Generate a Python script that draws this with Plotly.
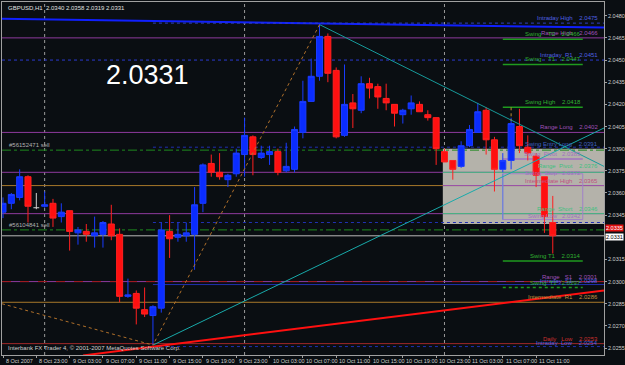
import plotly.graph_objects as go

# ---------------- data ----------------
bar_index = list(range(67))
opens = [2.0347, 2.0353, 2.0357, 2.0371, 2.0350, 2.0351, 2.0353, 2.0344, 2.0348, 2.0333,
         2.0334, 2.0331, 2.0332, 2.0339, 2.0332, 2.0290, 2.0292, 2.0281, 2.0277, 2.0282,
         2.0334, 2.0330, 2.0331, 2.0332, 2.0353, 2.0380, 2.0374, 2.0369, 2.0373, 2.0386,
         2.0398, 2.0384, 2.0386, 2.0388, 2.0375, 2.0376, 2.0401, 2.0422, 2.0439, 2.0466,
         2.0443, 2.0399, 2.0421, 2.0416, 2.0434, 2.0432, 2.0424, 2.0420, 2.0413, 2.0417,
         2.0420, 2.0413, 2.0411, 2.0388, 2.0382, 2.0378, 2.0392, 2.0401, 2.0416, 2.0396,
         2.0376, 2.0382, 2.0405, 2.0391, 2.0385, 2.0371, 2.0340]
highs = [2.0357, 2.0360, 2.0376, 2.0372, 2.0360, 2.0361, 2.0356, 2.0353, 2.0348, 2.0337,
         2.0339, 2.0344, 2.0341, 2.0352, 2.0336, 2.0302, 2.0294, 2.0296, 2.0284, 2.0340,
         2.0345, 2.0340, 2.0340, 2.0364, 2.0380, 2.0386, 2.0387, 2.0373, 2.0390, 2.0411,
         2.0399, 2.0392, 2.0392, 2.0390, 2.0394, 2.0405, 2.0436, 2.0451, 2.0474, 2.0468,
         2.0445, 2.0447, 2.0427, 2.0439, 2.0438, 2.0434, 2.0434, 2.0420, 2.0417, 2.0426,
         2.0422, 2.0416, 2.0411, 2.0390, 2.0382, 2.0395, 2.0406, 2.0421, 2.0418, 2.0398,
         2.0387, 2.0411, 2.0417, 2.0399, 2.0387, 2.0371, 2.0358]
lows = [2.0343, 2.0349, 2.0355, 2.0340, 2.0349, 2.0350, 2.0337, 2.0340, 2.0321, 2.0325,
        2.0327, 2.0323, 2.0323, 2.0328, 2.0286, 2.0289, 2.0271, 2.0276, 2.0257, 2.0279,
        2.0316, 2.0327, 2.0327, 2.0308, 2.0347, 2.0371, 2.0369, 2.0364, 2.0371, 2.0371,
        2.0372, 2.0383, 2.0379, 2.0372, 2.0374, 2.0374, 2.0397, 2.0422, 2.0436, 2.0435,
        2.0397, 2.0398, 2.0404, 2.0414, 2.0424, 2.0417, 2.0416, 2.0405, 2.0407, 2.0413,
        2.0415, 2.0409, 2.0379, 2.0381, 2.0369, 2.0377, 2.0391, 2.0401, 2.0386, 2.0361,
        2.0374, 2.0376, 2.0387, 2.0382, 2.0364, 2.0333, 2.0319]
closes = [2.0353, 2.0359, 2.0371, 2.0351, 2.0350, 2.0352, 2.0343, 2.0347, 2.0334, 2.0335,
          2.0332, 2.0333, 2.0340, 2.0331, 2.0290, 2.0291, 2.0282, 2.0278, 2.0283, 2.0335,
          2.0329, 2.0332, 2.0333, 2.0352, 2.0379, 2.0374, 2.0371, 2.0372, 2.0387, 2.0399,
          2.0386, 2.0387, 2.0388, 2.0374, 2.0378, 2.0403, 2.0422, 2.0439, 2.0466, 2.0441,
          2.0398, 2.0420, 2.0417, 2.0434, 2.0431, 2.0425, 2.0421, 2.0414, 2.0416, 2.0421,
          2.0415, 2.0411, 2.0390, 2.0381, 2.0376, 2.0392, 2.0403, 2.0415, 2.0396, 2.0376,
          2.0382, 2.0407, 2.0392, 2.0387, 2.0372, 2.0344, 2.0331]

time_tick_bars = [0, 4, 8, 12, 16, 20, 24, 28, 32, 36, 40, 44, 48, 52, 56, 60, 64]
time_tick_labels = ["8 Oct 2007", "8 Oct 23:00", "9 Oct 03:00", "9 Oct 07:00", "9 Oct 11:00",
                    "9 Oct 15:00", "9 Oct 19:00", "9 Oct 23:00", "10 Oct 03:00", "10 Oct 07:00",
                    "10 Oct 11:00", "10 Oct 15:00", "10 Oct 19:00", "10 Oct 23:00",
                    "11 Oct 03:00", "11 Oct 07:00", "11 Oct 11:00"]
day_separator_bars = [5, 29, 53]
price_ticks = [2.0480, 2.0465, 2.0450, 2.0435, 2.0420, 2.0405, 2.0390, 2.0375, 2.0360,
               2.0345, 2.0315, 2.0300, 2.0285, 2.0270, 2.0255]

# horizontal levels: (price, colour, dash, width, start bar or None for full width)
level_lines = [
    (2.0465, "#8e3a9e", "solid", 1, None),     # Range High
    (2.0450, "#2a3ad0", "dot", 1, None),       # Intraday R1
    (2.0401, "#8e3a9e", "solid", 1, None),     # Range Long
    (2.0391, "#2030b0", "dot", 1, 18),
    (2.0389, "#1f8a1f", "dashdot", 1, None),   # order sell
    (2.0374, "#8e3a9e", "solid", 1, None),
    (2.0365, "#a8782a", "solid", 1, None),
    (2.0346, "#8e3a9e", "solid", 1, None),
    (2.0340, "#2030b0", "dot", 1, 18),
    (2.0335, "#1f8a1f", "dashdot", 1, None),   # order sell
    (2.0331, "#b8b8b8", "solid", 1, None),     # bid
    (2.0300, "#8e3a9e", "solid", 1, None),     # Range S1
    (2.0300, "#a01818", "dash", 1, None),
    (2.0298, "#2030b0", "solid", 1, 18),
    (2.0286, "#a8782a", "solid", 1, None),     # Intermediate
    (2.0258, "#a02828", "solid", 1, None),     # Daily Low
    (2.0256, "#2030b0", "dot", 1, 18),
]
# range levels inside the shaded zone (price, colour)
zone_lines = [
    (2.0374, "#40c080"),
    (2.0365, "#9a50b0"),
    (2.0346, "#40c080"),
]
# swing target segments (price, start bar, end bar, dash, colour)
swing_lines = [
    (2.0464, 60, 69.6, "solid", "#1f9a1f"),
    (2.0447, 60, 69.6, "solid", "#1f9a1f"),
    (2.0418, 60, 69.6, "solid", "#1f9a1f"),
    (2.0383, 60, 69.6, "solid", "#a070c0"),
    (2.0314, 60, 69.6, "solid", "#1f9a1f"),
    (2.0296, 60, 69.6, "dot", "#1f9a1f"),
]
# swing stop box (x0, x1, price low, price high)
swing_box = (60, 69.6, 2.0342, 2.0373)

# level labels (text, price, colour, right-edge bar)
level_labels = [
    ("Intraday High    2.0475", 2.0475, "#5060e0", 71.7),
    ("Range High    2.0466", 2.0465, "#a050b8", 71.7),
    ("Swing    T2    2.0466", 2.0464, "#30b030", 69.6),
    ("Intraday  R1    2.0451", 2.0450, "#5060e0", 71.7),
    ("Swing    T1    2.0447", 2.0447, "#30b030", 69.6),
    ("Swing High    2.0418", 2.0418, "#30b030", 69.6),
    ("Range Long    2.0402", 2.0401, "#a050b8", 71.7),
    ("Swing Entry Long    2.0391", 2.0390, "#4060c0", 71.7),
    ("Swing  Pivot   2.0383", 2.0383, "#a070c0", 69.6),
    ("Range  Pivot    2.0376", 2.0375, "#40c080", 71.7),
    ("Swing  Stop   2.0372", 2.0370, "#a070c0", 69.6),
    ("Intermediate High    2.0365", 2.0365, "#c05080", 71.7),
    ("Range  Short    2.0346", 2.0346, "#40c080", 71.7),
    ("Swing Low   2.0342", 2.0341, "#a070c0", 69.6),
    ("Swing T1    2.0314", 2.0314, "#30b030", 69.6),
    ("Range   S1    2.0301", 2.0300, "#a050b8", 71.7),
    ("Intraday  S1    2.0298", 2.0297, "#5060e0", 71.7),
    ("Swing  T2   2.0297", 2.0296, "#30b030", 69.6),
    ("Intermediate  R1    2.0286", 2.0286, "#c09040", 71.7),
    ("Daily   Low    2.0253", 2.0258, "#d03030", 71.7),
    ("Intraday  Low    2.0254", 2.0255, "#5060e0", 71.7),
]

# trend lines: (x0 bar, price0, x1 bar, price1, colour, dash, width)
trend_lines = [
    (-0.12, 2.0478, 72.15, 2.0472, "#1020ff", "solid", 2),
    (18, 2.0475, 72.15, 2.0475, "#3040c0", "dot", 1),
    (38, 2.0474, 72.15, 2.0378, "#169a9a", "solid", 1),
    (18, 2.0257, 72.15, 2.0404, "#18aaaa", "solid", 1),
    (38, 2.0474, 18, 2.0257, "#b0702a", "dot", 1),
    (-0.12, 2.0285, 18, 2.0257, "#b0702a", "dot", 1),
    (61, 2.0418, 61, 2.0409, "#c09030", "dot", 1),
    (9.6, 2.0250, 72.15, 2.0294, "#ff1010", "solid", 2),
]

XMIN, XMAX = -0.12, 72.15
YMIN, YMAX = 2.02503, 2.04893
ZONE_X0, ZONE_LOW, ZONE_HIGH = 52.8, 2.0339, 2.0390

# ---------------- figure ----------------
up = [i for i in bar_index if closes[i] > opens[i]]
dn = [i for i in bar_index if closes[i] < opens[i]]
dj = [i for i in bar_index if closes[i] == opens[i]]
body = up + dn

fig = go.Figure()
fig.add_trace(go.Candlestick(
    x=[bar_index[i] for i in body], open=[opens[i] for i in body],
    high=[highs[i] for i in body], low=[lows[i] for i in body],
    close=[closes[i] for i in body],
    increasing=dict(line=dict(color="#1a3cff", width=1), fillcolor="#0a2cff"),
    decreasing=dict(line=dict(color="#ff2020", width=1), fillcolor="#ff1010"),
    whiskerwidth=0, showlegend=False, hoverinfo="skip"))

for i in dj:
    fig.add_trace(go.Scatter(x=[bar_index[i], bar_index[i]], y=[lows[i], highs[i]], mode="lines",
                             line=dict(color="#d0d0d0", width=1), showlegend=False, hoverinfo="skip"))
    fig.add_trace(go.Scatter(x=[bar_index[i] - 0.35, bar_index[i] + 0.35], y=[opens[i], closes[i]],
                             mode="lines", line=dict(color="#d0d0d0", width=1),
                             showlegend=False, hoverinfo="skip"))

shapes = []
shapes.append(dict(type="rect", xref="x", yref="y", x0=ZONE_X0, x1=XMAX, y0=ZONE_LOW, y1=ZONE_HIGH,
                   fillcolor="#b4b2aa", line=dict(width=0), layer="below"))
for b in day_separator_bars:
    shapes.append(dict(type="line", xref="x", yref="paper", x0=b, x1=b, y0=0, y1=1,
                       line=dict(color="#9a9a9a", width=1, dash="dot"), layer="below"))
for p, c, d, w, s in level_lines:
    shapes.append(dict(type="line", xref="x", yref="y", x0=XMIN if s is None else s, x1=XMAX,
                       y0=p, y1=p, line=dict(color=c, width=w, dash=d), layer="below"))
for p, c in zone_lines:
    shapes.append(dict(type="line", xref="x", yref="y", x0=ZONE_X0, x1=XMAX, y0=p, y1=p,
                       line=dict(color=c, width=1), layer="below"))
bx0, bx1, bl, bh = swing_box
shapes.append(dict(type="rect", xref="x", yref="y", x0=bx0, x1=bx1, y0=bl, y1=bh,
                   line=dict(color="#a080c8", width=1), layer="below"))
shapes.append(dict(type="line", xref="x", yref="y", x0=bx0, x1=bx0, y0=bl, y1=bh,
                   line=dict(color="#6080e0", width=1), layer="below"))
for p, a, b, d, c in swing_lines:
    shapes.append(dict(type="line", xref="x", yref="y", x0=a, x1=b, y0=p, y1=p,
                       line=dict(color=c, width=1.5, dash=d), layer="below"))
for x0, y0, x1, y1, c, d, w in trend_lines:
    shapes.append(dict(type="line", xref="x", yref="y", x0=x0, x1=x1, y0=y0, y1=y1,
                       line=dict(color=c, width=w, dash=d), layer="above"))

ann = []
small = dict(family="Liberation Sans", size=6)
tiny = dict(family="Liberation Sans", size=5.5)
for t, p, c, xr in level_labels:
    ann.append(dict(x=xr, y=p, xref="x", yref="y", text=t, showarrow=False, xanchor="right",
                    yanchor="bottom", font=dict(small, color=c)))
ann.append(dict(x=0.5, y=2.0389, xref="x", yref="y", text="#56152471 sell", showarrow=False,
                xanchor="left", yanchor="bottom", font=dict(small, color="#b0b0b0")))
ann.append(dict(x=0.5, y=2.0335, xref="x", yref="y", text="#56104841 sell", showarrow=False,
                xanchor="left", yanchor="bottom", font=dict(small, color="#b0b0b0")))
ann.append(dict(x=4 / 625, y=1, xref="paper", yref="paper", yanchor="top", yshift=-1,
                text="GBPUSD,H1  2.0340 2.0358 2.0319 2.0331", showarrow=False, xanchor="left",
                font=dict(small, color="#e0e0e0")))
ann.append(dict(x=17.3, y=2.0440, xref="x", yref="y", text="2.0331", showarrow=False,
                font=dict(family="Arial", size=27, color="#ffffff")))
ann.append(dict(x=0.3, y=2.0255, xref="x", yref="y", yanchor="middle",
                text="Interbank FX Trader 4, © 2001-2007 MetaQuotes Software Corp.",
                showarrow=False, xanchor="left", font=dict(small, color="#d0d0d0")))
# time scale labels
for b, t in zip(time_tick_bars, time_tick_labels):
    ann.append(dict(x=b, y=0, xref="x", yref="paper", text=t, showarrow=False, xanchor="left",
                    yanchor="top", xshift=1, yshift=-1, font=dict(tiny, color="#d0d0d0")))
# price scale labels
for p in price_ticks:
    ann.append(dict(x=1, y=p, xref="paper", yref="y", text=f"{p:.4f}", showarrow=False,
                    xanchor="left", yanchor="middle", xshift=2, font=dict(tiny, color="#d0d0d0")))
# current price boxes on price scale
ann.append(dict(x=1.0, y=2.0336, xref="paper", yref="y", text="2.0335", showarrow=False,
                xanchor="left", yanchor="middle", bgcolor="#e01010", borderpad=0, xshift=1,
                font=dict(tiny, color="#ffffff")))
ann.append(dict(x=1.0, y=2.0330, xref="paper", yref="y", text="2.0331", showarrow=False,
                xanchor="left", yanchor="middle", bgcolor="#ffffff", borderpad=0, xshift=1,
                font=dict(tiny, color="#000000")))

fig.update_layout(
    width=625, height=365, margin=dict(l=2, r=21, t=2, b=10),
    paper_bgcolor="#0a0e12", plot_bgcolor="#0a0e12", template="none",
    shapes=shapes, annotations=ann, showlegend=False,
    boxgap=0.15, boxgroupgap=0.15,
    xaxis=dict(range=[XMIN, XMAX], tickvals=time_tick_bars, showticklabels=False,
               showgrid=False, zeroline=False, showline=True, linecolor="#a0a0a0",
               mirror=True, ticks="outside", ticklen=2, tickcolor="#a0a0a0",
               rangeslider=dict(visible=False), automargin=False),
    yaxis=dict(range=[YMIN, YMAX], side="right", tickvals=price_ticks, showticklabels=False,
               showgrid=False, zeroline=False,
               showline=True, linecolor="#a0a0a0", mirror=True, ticks="outside", ticklen=2,
               tickcolor="#a0a0a0", automargin=False),
)

fig.write_html("out.html")
